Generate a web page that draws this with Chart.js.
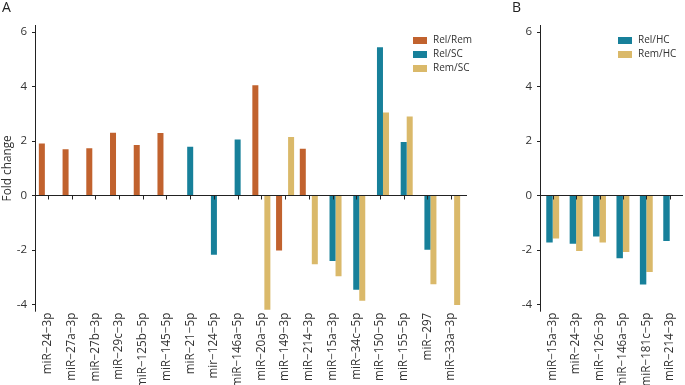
<!DOCTYPE html>
<html>
<head>
<meta charset="utf-8">
<script src="https://cdn.jsdelivr.net/npm/chart.js@4"></script>
<style>
  body { margin: 0; background: #fff; width: 685px; height: 385px; position: relative; overflow: hidden; font-family: 'Open Sans', sans-serif; }
  #wrapA { position: absolute; left: 0; top: 0; width: 500px; height: 385px; }
  #wrapB { position: absolute; left: 500px; top: 0; width: 185px; height: 385px; }
  .tag { position: absolute; top: -3px; font-size: 14px; color: #222; }
</style>
</head>
<body>
<div id="wrapA"><canvas id="chartA" width="500" height="385"></canvas></div>
<div id="wrapB"><canvas id="chartB" width="185" height="385"></canvas></div>
<div class="tag" style="left:2px">A</div>
<div class="tag" style="left:512px">B</div>
<script>
// panel A data
const labelsA = ['miR−24−3p', 'miR−27a−3p', 'miR−27b−3p', 'miR−29c−3p', 'miR−125b−5p', 'miR−145−5p',
  'miR−21−5p', 'mir−124−5p', 'miR−146a−5p', 'miR−20a−5p', 'miR−149−3p', 'miR−214−3p',
  'miR−15a−3p', 'miR−34c−5p', 'miR−150−5p', 'miR−155−5p', 'miR−297', 'miR−33a−3p'];
const relRem = [1.90, 1.69, 1.73, 2.30, 1.85, 2.29, null, null, null, 4.04, -2.02, 1.71, null, null, null, null, null, null];
const relSC = [null, null, null, null, null, null, 1.78, -2.18, 2.05, null, null, null, -2.41, -3.46, 5.43, 1.96, -2.00, null];
const remSC = [null, null, null, null, null, null, null, null, null, -4.20, 2.14, -2.53, -2.97, -3.87, 3.04, 2.89, -3.26, -4.02];

// panel B data
const labelsB = ['miR−15a−3p', 'miR−24−3p', 'miR−126−3p', 'miR−146a−5p', 'miR−181c−5p', 'miR−214−3p'];
const relHC = [-1.73, -1.78, -1.51, -2.31, -3.27, -1.68];
const remHC = [-1.58, -2.04, -1.73, -2.08, -2.81, null];

const yTicks = [-4, -2, 0, 2, 4, 6];

const ORANGE = '#C1622E';
const TEAL = '#17809A';
const SAND = '#DAB96A';

Chart.defaults.font.family = "'Open Sans', sans-serif";
Chart.defaults.font.size = 11;
Chart.defaults.color = '#333';

// axis lines, tick marks and zero line drawn by hand (ticks hang from y = 0)
const axisLines = {
  id: 'axisLines',
  afterDatasetsDraw(chart, args, opts) {
    const { ctx, chartArea, scales } = chart;
    const x0 = chartArea.left - 0.5;
    const y0 = Math.round(scales.y.getPixelForValue(0)) + 0.5;
    ctx.save();
    ctx.strokeStyle = '#222';
    ctx.lineWidth = 1;
    ctx.beginPath();
    ctx.moveTo(x0, chartArea.top);
    ctx.lineTo(x0, chartArea.bottom);
    yTicks.forEach(v => {
      const y = Math.round(scales.y.getPixelForValue(v)) + 0.5;
      ctx.moveTo(x0 - 3.5, y);
      ctx.lineTo(x0, y);
    });
    ctx.moveTo(x0, y0);
    ctx.lineTo(opts.lineEnd, y0);
    scales.x.ticks.forEach((t, i) => {
      const x = Math.round(scales.x.getPixelForTick(i)) + 0.5;
      ctx.moveTo(x, y0);
      ctx.lineTo(x, y0 + 4);
    });
    ctx.stroke();
    ctx.restore();
  }
};

// small legend inside the plot, top right
const boxLegend = {
  id: 'boxLegend',
  afterDraw(chart, args, opts) {
    const ctx = chart.ctx;
    ctx.save();
    ctx.font = "10px 'Open Sans'";
    ctx.textBaseline = 'middle';
    chart.data.datasets.forEach((ds, i) => {
      const y = opts.top + i * 14;
      ctx.fillStyle = ds.backgroundColor;
      ctx.fillRect(opts.x, y, 14, 7);
      ctx.fillStyle = '#333';
      ctx.fillText(ds.label, opts.x + 20, y + 3.5);
    });
    ctx.restore();
  }
};

function makeScales(yWidth, withTitle) {
  return {
    x: {
      grid: { display: false, drawTicks: false },
      border: { display: false },
      ticks: { autoSkip: false, minRotation: 90, maxRotation: 90, padding: 1, font: { size: 11.7 } },
      afterFit(s) { s.height = 73.3; }
    },
    y: {
      min: -4.27,
      max: 6.25,
      grid: { display: false, drawTicks: false },
      border: { display: false },
      ticks: { padding: 9, font: { size: 11.5 } },
      afterBuildTicks(s) { s.ticks = yTicks.map(v => ({ value: v })); },
      title: { display: withTitle, text: 'Fold change', font: { size: 11.8 }, padding: { top: 1, bottom: 0 } },
      afterFit(s) { s.width = yWidth; }
    }
  };
}

new Chart(document.getElementById('chartA'), {
  type: 'bar',
  data: {
    labels: labelsA,
    datasets: [
      { label: 'Rel/Rem', data: relRem, backgroundColor: ORANGE },
      { label: 'Rel/SC', data: relSC, backgroundColor: TEAL },
      { label: 'Rem/SC', data: remSC, backgroundColor: SAND }
    ]
  },
  options: {
    responsive: false,
    animation: false,
    devicePixelRatio: 1,
    categoryPercentage: 0.76,
    barPercentage: 1,
    layout: { padding: { left: 0, right: 37, top: 25, bottom: 0 } },
    scales: makeScales(36, true),
    plugins: {
      legend: { display: false },
      tooltip: { enabled: false },
      axisLines: { lineEnd: 467 },
      boxLegend: { x: 413, top: 37 }
    }
  },
  plugins: [axisLines, boxLegend]
});

new Chart(document.getElementById('chartB'), {
  type: 'bar',
  data: {
    labels: labelsB,
    datasets: [
      { label: 'Rel/HC', data: relHC, backgroundColor: TEAL },
      { label: 'Rem/HC', data: remHC, backgroundColor: SAND }
    ]
  },
  options: {
    responsive: false,
    animation: false,
    devicePixelRatio: 1,
    categoryPercentage: 0.55,
    barPercentage: 1,
    layout: { padding: { left: 0, right: 3, top: 25, bottom: 0 } },
    scales: makeScales(41, false),
    plugins: {
      legend: { display: false },
      tooltip: { enabled: false },
      axisLines: { lineEnd: 183 },
      boxLegend: { x: 118, top: 37 }
    }
  },
  plugins: [axisLines, boxLegend]
});
</script>
</body>
</html>
